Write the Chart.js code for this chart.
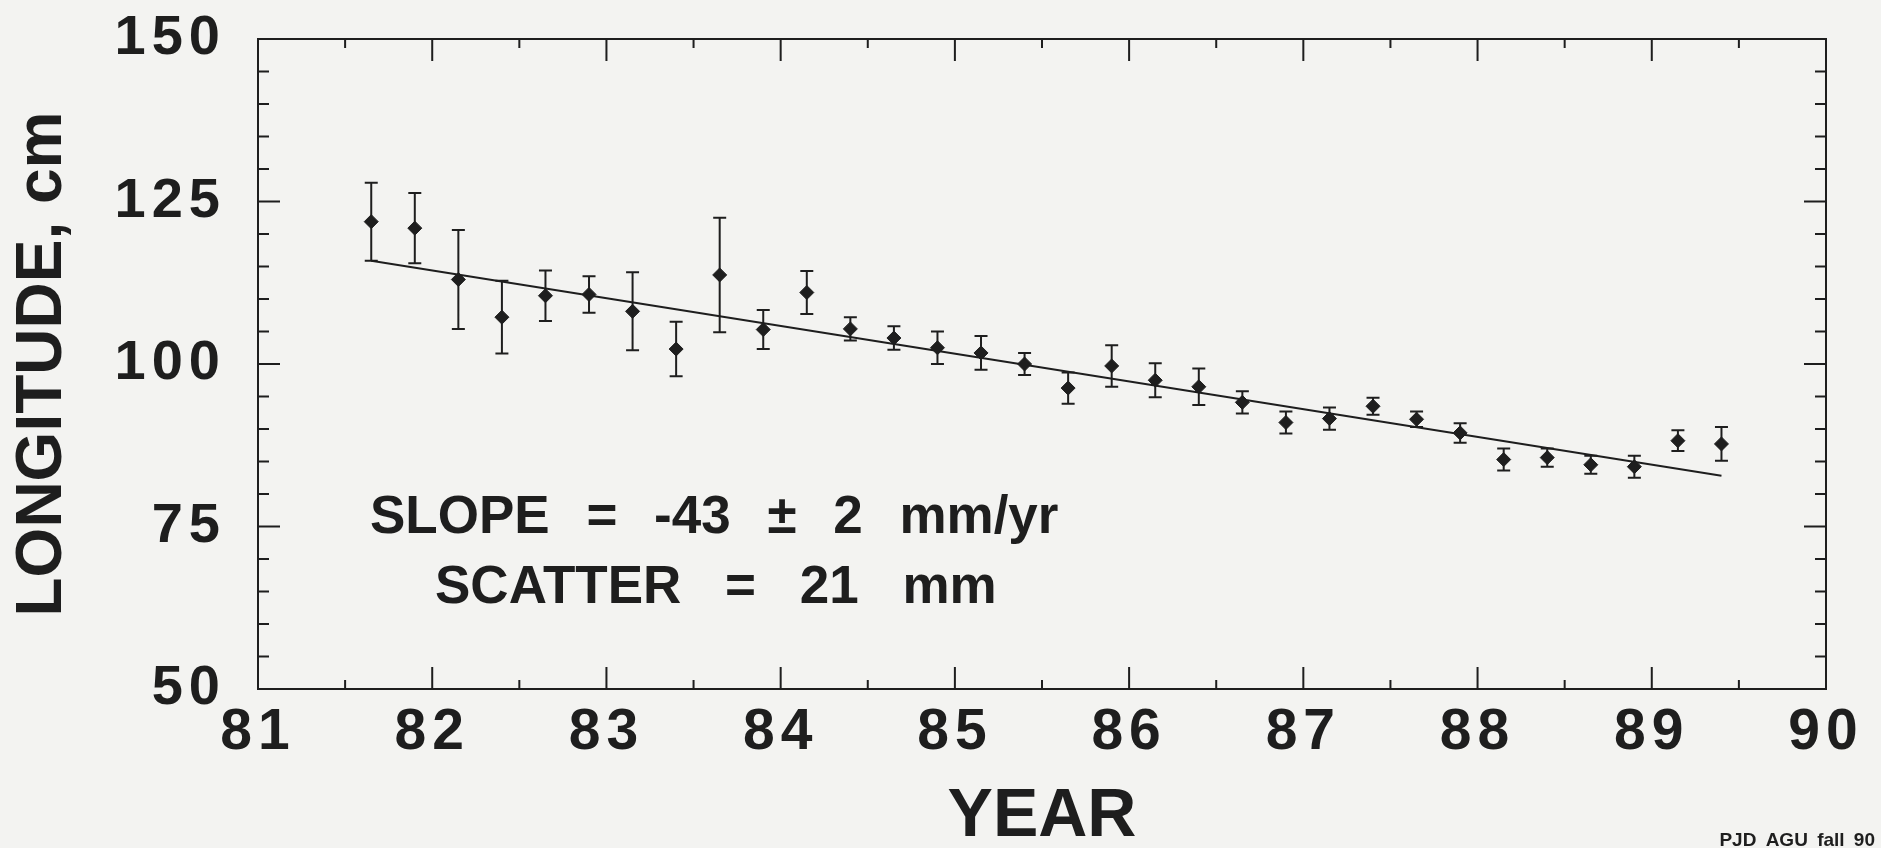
<!DOCTYPE html>
<html lang="en">
<head>
<meta charset="UTF-8">
<title>Longitude vs year</title>
<script src="https://cdn.jsdelivr.net/npm/chart.js@4.4.1/dist/chart.umd.min.js"></script>
<style>
    html, body {
        margin: 0;
        padding: 0;
        background-color: #f3f3f1;
    }
    canvas {
        display: block;
    }
</style>
</head>
<body>
<canvas id="chart" width="1881" height="848"></canvas>
<script>
    // epochs (decimal year, 19xx) and longitude component in cm
    const years = [81.65, 81.90, 82.15, 82.40, 82.65, 82.90, 83.15, 83.40, 83.65, 83.90,
                   84.15, 84.40, 84.65, 84.90, 85.15, 85.40, 85.65, 85.90, 86.15, 86.40,
                   86.65, 86.90, 87.15, 87.40, 87.65, 87.90, 88.15, 88.40, 88.65, 88.90,
                   89.15, 89.40];
    const longitude = [121.9, 120.9, 113.0, 107.2, 110.5, 110.7, 108.1, 102.3, 113.7, 105.3,
                       111.0, 105.4, 104.0, 102.5, 101.7, 100.0, 96.3, 99.7, 97.5, 96.5,
                       94.1, 91.0, 91.6, 93.5, 91.5, 89.4, 85.3, 85.6, 84.5, 84.2,
                       88.2, 87.7];
    const errors = [6.0, 5.4, 7.6, 5.6, 3.9, 2.8, 6.0, 4.2, 8.8, 3.0,
                    3.3, 1.8, 1.8, 2.5, 2.6, 1.7, 2.4, 3.2, 2.6, 2.8,
                    1.7, 1.7, 1.7, 1.3, 1.2, 1.5, 1.7, 1.4, 1.4, 1.7,
                    1.6, 2.6];

    // fitted rate line (end points)
    const fitYears = [81.65, 89.40];
    const fitValues = [115.9, 82.8];

    const yearTicks = [81, 82, 83, 84, 85, 86, 87, 88, 89, 90];
    const cmTicks = [50, 75, 100, 125, 150];

    const ink = '#1e1e1e';
    const family = '"Liberation Sans", Arial, Helvetica, sans-serif';

    // tick labels of the original are set with wide letter spacing
    const spacedTicks = {
        id: 'spacedTicks',
        afterLayout(chart) {
            ['x', 'y'].forEach(id => {
                const s = chart.scales[id];
                if (s._spaced) return;
                const orig = s.drawLabels;
                s.drawLabels = function (area) {
                    this.ctx.save();
                    this.ctx.letterSpacing = '6px';
                    orig.call(this, area);
                    this.ctx.restore();
                };
                s._spaced = true;
            });
        }
    };

    // box, inward ticks on all four sides, error bars
    const frame = {
        id: 'frame',
        beforeDatasetsDraw(chart) {
            const {ctx, chartArea: a, scales: {x, y}} = chart;
            ctx.save();
            ctx.strokeStyle = ink;
            ctx.lineWidth = 2;
            ctx.strokeRect(a.left, a.top, a.right - a.left, a.bottom - a.top);

            ctx.beginPath();
            for (let v = 81; v <= 90; v += 0.5) {
                const px = x.getPixelForValue(v);
                const len = Number.isInteger(v) ? 22 : 9;
                ctx.moveTo(px, a.bottom); ctx.lineTo(px, a.bottom - len);
                ctx.moveTo(px, a.top); ctx.lineTo(px, a.top + len);
            }
            for (let v = 50; v <= 150; v += 5) {
                const py = y.getPixelForValue(v);
                const len = v % 25 === 0 ? 22 : 11;
                ctx.moveTo(a.left, py); ctx.lineTo(a.left + len, py);
                ctx.moveTo(a.right, py); ctx.lineTo(a.right - len, py);
            }
            ctx.stroke();

            // error bars
            ctx.beginPath();
            years.forEach((t, i) => {
                const px = x.getPixelForValue(t);
                const top = y.getPixelForValue(longitude[i] + errors[i]);
                const bot = y.getPixelForValue(longitude[i] - errors[i]);
                ctx.moveTo(px, top); ctx.lineTo(px, bot);
                ctx.moveTo(px - 6.5, top); ctx.lineTo(px + 6.5, top);
                ctx.moveTo(px - 6.5, bot); ctx.lineTo(px + 6.5, bot);
            });
            ctx.stroke();
            ctx.restore();
        },
        afterDraw(chart) {
            const {ctx, chartArea: a} = chart;
            ctx.save();
            ctx.fillStyle = ink;
            ctx.font = 'bold 53px ' + family;
            ctx.textAlign = 'left';
            ctx.textBaseline = 'middle';
            ctx.wordSpacing = '22px';
            ctx.fillText('SLOPE = -43 ± 2 mm/yr', a.left + 112, a.top + 479);
            ctx.wordSpacing = '29px';
            ctx.fillText('SCATTER = 21 mm', a.left + 177, a.top + 549);

            ctx.wordSpacing = '4px';
            ctx.font = 'bold 19px ' + family;
            ctx.textAlign = 'right';
            ctx.textBaseline = 'alphabetic';
            ctx.fillText('PJD AGU fall 90', chart.width - 6, chart.height - 2);
            ctx.restore();
        }
    };

    const points = years.map((t, i) => ({x: t, y: longitude[i]}));
    const fit = fitYears.map((t, i) => ({x: t, y: fitValues[i]}));

    new Chart(document.getElementById('chart'), {
        type: 'scatter',
        data: {
            datasets: [{
                label: 'Longitude',
                data: points,
                pointStyle: 'rectRot',
                pointRadius: 7,
                pointBackgroundColor: ink,
                pointBorderColor: ink,
                pointBorderWidth: 1
            }, {
                type: 'line',
                label: 'Fit',
                data: fit,
                borderColor: ink,
                borderWidth: 2,
                pointRadius: 0,
                fill: false
            }]
        },
        options: {
            responsive: false,
            devicePixelRatio: 1,
            animation: false,
            layout: {padding: {top: 39, right: 55, left: 0, bottom: 0}},
            plugins: {
                legend: {display: false},
                tooltip: {enabled: false}
            },
            scales: {
                x: {
                    type: 'linear',
                    min: 81,
                    max: 90,
                    afterFit: s => { s.height = 159; s.paddingLeft = 0; s.paddingRight = 0; },
                    afterBuildTicks: s => { s.ticks = yearTicks.map(v => ({value: v})); },
                    grid: {display: false, drawTicks: false},
                    border: {display: false},
                    ticks: {
                        autoSkip: false,
                        maxRotation: 0,
                        padding: 10,
                        color: ink,
                        font: {family: family, size: 57, weight: 'bold'}
                    },
                    title: {
                        display: true,
                        text: 'YEAR',
                        color: ink,
                        padding: {top: 0, bottom: 4},
                        font: {family: family, size: 68, weight: 'bold', lineHeight: 0.8}
                    }
                },
                y: {
                    type: 'linear',
                    min: 50,
                    max: 150,
                    afterFit: s => { s.width = 258; s.paddingTop = 0; s.paddingBottom = 0; },
                    afterBuildTicks: s => { s.ticks = cmTicks.map(v => ({value: v})); },
                    grid: {display: false, drawTicks: false},
                    border: {display: false},
                    ticks: {
                        autoSkip: false,
                        padding: 32,
                        color: ink,
                        font: {family: family, size: 56, weight: 'bold'}
                    },
                    title: {
                        display: true,
                        text: 'LONGITUDE, cm',
                        color: ink,
                        padding: {top: 5, bottom: 0},
                        font: {family: family, size: 64, weight: 'bold', lineHeight: 1.2}
                    }
                }
            }
        },
        plugins: [spacedTicks, frame]
    });
</script>
</body>
</html>
